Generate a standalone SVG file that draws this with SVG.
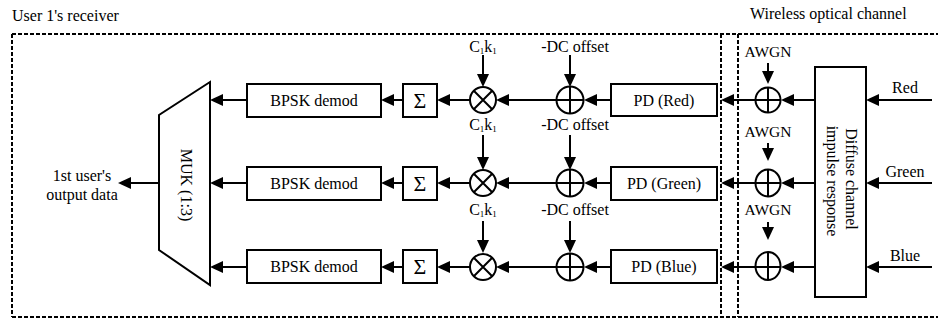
<svg xmlns="http://www.w3.org/2000/svg" width="938" height="320" viewBox="0 0 938 320">
<defs>
<marker id="ah" viewBox="0 0 13 12" refX="7" refY="6" markerWidth="13" markerHeight="12" orient="auto" markerUnits="userSpaceOnUse"><path d="M0,0 L13,6 L0,12 z" fill="#000"/></marker>
<style>
text{font-family:"Liberation Serif","Times New Roman",serif;font-size:16px;fill:#000}
.box{fill:#fff;stroke:#000;stroke-width:2}
.dash{fill:none;stroke:#000;stroke-width:2;stroke-dasharray:4 2}
.ln{fill:none;stroke:#000;stroke-width:2}
.arr{fill:none;stroke:#000;stroke-width:2;marker-end:url(#ah)}
.op{fill:#fff;stroke:#000;stroke-width:2}
.sub{font-size:9px}
.sig{font-size:22px}
</style>
</defs>
<rect width="938" height="320" fill="#fff"/>
<g id="frames">
<path class="dash" d="M12,34 H945 M12,317 H945 M12,34 V317 M721,34 V317 M738,34 V317"/>
<text x="12" y="21">User 1's receiver</text>
<text x="750" y="19">Wireless optical channel</text>
</g>
<g id="connectors">
<path class="arr" d="M159,183 H124"/>
<path class="arr" d="M247,100 H216"/><path class="arr" d="M247,183 H216"/><path class="arr" d="M247,267 H216"/>
<path class="arr" d="M403,100 H387"/><path class="arr" d="M403,183 H387"/><path class="arr" d="M403,267 H387"/>
<path class="arr" d="M470,100 H443"/><path class="arr" d="M470,183 H443"/><path class="arr" d="M470,267 H443"/>
<path class="arr" d="M557,100 H502"/><path class="arr" d="M557,183 H502"/><path class="arr" d="M557,267 H502"/>
<path class="arr" d="M611,100 H590"/><path class="arr" d="M611,183 H590"/><path class="arr" d="M611,267 H590"/>
<path class="arr" d="M755,100 H727"/><path class="arr" d="M755,183 H727"/><path class="arr" d="M755,267 H727"/>
<path class="arr" d="M815,100 H787"/><path class="arr" d="M815,183 H787"/><path class="arr" d="M815,267 H787"/>
<path class="arr" d="M932,100 H872"/><path class="arr" d="M932,183 H872"/><path class="arr" d="M932,267 H872"/>
<path class="arr" d="M483,55 V81"/><path class="arr" d="M570,55 V81"/><path class="arr" d="M768,63 V78"/>
<path class="arr" d="M483,135 V164"/><path class="arr" d="M570,135 V164"/><path class="arr" d="M768,143 V155"/>
<path class="arr" d="M483,221 V247"/><path class="arr" d="M570,221 V247"/><path class="arr" d="M768,222 V234"/>
</g>
<g id="output-label">
<text x="82" y="181" text-anchor="middle">1st user's</text>
<text x="82" y="200" text-anchor="middle">output data</text>
</g>
<g id="mux">
<path class="box" d="M210,82 V285 L159,250 V115 Z"/>
<text transform="translate(181,185) rotate(90)" text-anchor="middle">MUK (1:3)</text>
</g>
<g id="bpsk1"><rect class="box" x="247" y="84" width="134" height="33"/><text x="314" y="106" text-anchor="middle">BPSK demod</text></g>
<g id="bpsk2"><rect class="box" x="247" y="167" width="134" height="33"/><text x="314" y="189" text-anchor="middle">BPSK demod</text></g>
<g id="bpsk3"><rect class="box" x="247" y="250" width="134" height="33"/><text x="314" y="272" text-anchor="middle">BPSK demod</text></g>
<g id="sum1"><rect class="box" x="403" y="84" width="34" height="33"/><text class="sig" x="420" y="108" text-anchor="middle">Σ</text></g>
<g id="sum2"><rect class="box" x="403" y="167" width="34" height="33"/><text class="sig" x="420" y="191" text-anchor="middle">Σ</text></g>
<g id="sum3"><rect class="box" x="403" y="250" width="34" height="33"/><text class="sig" x="420" y="274" text-anchor="middle">Σ</text></g>
<g id="mult1"><circle class="op" cx="483" cy="100" r="13"/><path class="ln" d="M473.8,90.8 L492.2,109.2 M492.2,90.8 L473.8,109.2"/>
<text x="483" y="52" text-anchor="middle">C<tspan class="sub" dy="2">1</tspan><tspan dy="-2">k</tspan><tspan class="sub" dy="2">1</tspan></text></g>
<g id="mult2"><circle class="op" cx="483" cy="183" r="13"/><path class="ln" d="M473.8,173.8 L492.2,192.2 M492.2,173.8 L473.8,192.2"/>
<text x="483" y="130" text-anchor="middle">C<tspan class="sub" dy="2">1</tspan><tspan dy="-2">k</tspan><tspan class="sub" dy="2">1</tspan></text></g>
<g id="mult3"><circle class="op" cx="483" cy="267" r="13"/><path class="ln" d="M473.8,257.8 L492.2,276.2 M492.2,257.8 L473.8,276.2"/>
<text x="483" y="215" text-anchor="middle">C<tspan class="sub" dy="2">1</tspan><tspan dy="-2">k</tspan><tspan class="sub" dy="2">1</tspan></text></g>
<g id="add1"><circle class="op" cx="570" cy="100" r="13.5"/><path class="ln" d="M556.5,100 H583.5 M570,86.5 V113.5"/><text x="575" y="52" text-anchor="middle">-DC offset</text></g>
<g id="add2"><circle class="op" cx="570" cy="183" r="13.5"/><path class="ln" d="M556.5,183 H583.5 M570,169.5 V196.5"/><text x="575" y="130" text-anchor="middle">-DC offset</text></g>
<g id="add3"><circle class="op" cx="570" cy="267" r="13.5"/><path class="ln" d="M556.5,267 H583.5 M570,253.5 V280.5"/><text x="575" y="215" text-anchor="middle">-DC offset</text></g>
<g id="pd1"><rect class="box" x="611" y="84" width="106" height="32"/><text x="664" y="106" text-anchor="middle">PD (Red)</text></g>
<g id="pd2"><rect class="box" x="611" y="167" width="106" height="33"/><text x="664" y="189" text-anchor="middle">PD (Green)</text></g>
<g id="pd3"><rect class="box" x="611" y="250" width="106" height="33"/><text x="664" y="272" text-anchor="middle">PD (Blue)</text></g>
<g id="awgn1"><ellipse class="op" cx="768" cy="100" rx="12.5" ry="12.5"/><path class="ln" d="M755.5,100 H780.5 M768,87.5 V112.5"/><text x="768" y="57" text-anchor="middle" style="font-size:15.5px">AWGN</text></g>
<g id="awgn2"><ellipse class="op" cx="768" cy="183" rx="12.5" ry="13.5"/><path class="ln" d="M755.5,183 H780.5 M768,169.5 V196.5"/><text x="768" y="137" text-anchor="middle" style="font-size:15.5px">AWGN</text></g>
<g id="awgn3"><ellipse class="op" cx="768" cy="266" rx="12.5" ry="14"/><path class="ln" d="M755.5,267 H780.5 M768,252 V280"/><text x="768" y="215" text-anchor="middle" style="font-size:15.5px">AWGN</text></g>
<g id="diffuse"><rect class="box" x="815" y="67" width="51" height="230"/>
<text transform="translate(846,179) rotate(90)" text-anchor="middle">Diffuse channel</text>
<text transform="translate(827,181) rotate(90)" text-anchor="middle">impulse response</text></g>
<g id="inputs">
<text x="905" y="93" text-anchor="middle">Red</text>
<text x="905" y="177" text-anchor="middle">Green</text>
<text x="905" y="261" text-anchor="middle">Blue</text>
</g>
</svg>
